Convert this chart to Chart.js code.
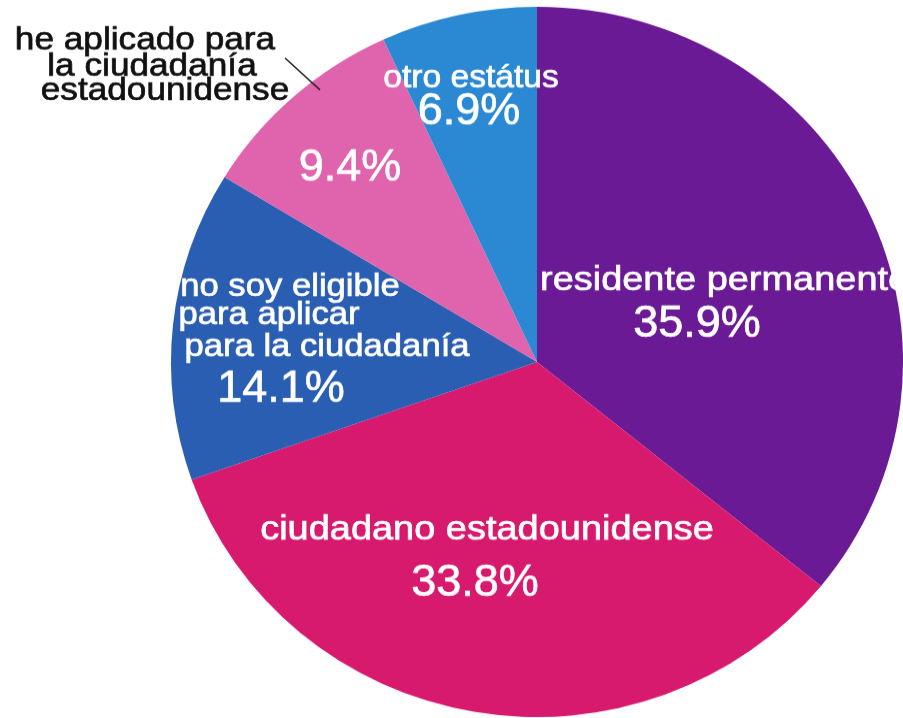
<!DOCTYPE html>
<html lang="es">
<head>
    <meta charset="UTF-8">
    <title>Estatus</title>
    <script src="https://cdn.jsdelivr.net/npm/chart.js@4.4.0/dist/chart.umd.min.js"></script>
    <style>
        body { margin: 0; background: #fff; overflow: hidden; }
        #wrap { width: 903px; height: 718px; overflow: hidden; }
        /* el pastel original es un poco más ancho que alto */
        #pie { display: block; width: 903px; height: 740px; transform: scaleY(0.9703); transform-origin: 0 0; }
    </style>
</head>
<body>
<div id="wrap">
    <canvas id="pie" width="903" height="740"></canvas>
</div>
<script>
    // datos
    const categorias = ['residente permanente', 'ciudadano estadounidense', 'no soy eligible para aplicar para la ciudadanía', 'he aplicado para la ciudadanía estadounidense', 'otro estátus'];
    const porcentajes = [35.9, 33.8, 14.1, 9.4, 6.9];
    const etiquetas = [
        ['residente permanente'],
        ['ciudadano estadounidense'],
        ['no soy eligible', 'para aplicar', 'para la ciudadanía'],
        ['he aplicado para', 'la ciudadanía', 'estadounidense'],
        ['otro estátus']
    ];
    const colores = ['#6b1a95', '#d81a6e', '#2a5eb3', '#e064ad', '#2b89d3'];

    const SY = 718 / 740;
    const FUENTE = '"Liberation Sans", Arial, Helvetica, sans-serif';

    // posición de cada línea respecto al centro del pastel (px en pantalla)
    const posEtiquetas = [
        { lineas: [[3, -72]], alinear: 'left', size: 34.5, k: 1.1, color: '#fff', pct: [160, -25] },
        { lineas: [[-50, 178]], alinear: 'center', size: 34.5, k: 1.1, color: '#fff', pct: [-62, 234] },
        { lineas: [[-247, -66], [-268, -38], [-210, -6]], alinear: 'center', size: 31.5, k: 1.1, color: '#fff', pct: [-256, 40] },
        { lineas: [[-392, -312], [-385, -286], [-372, -262]], alinear: 'center', size: 32, k: 1.1, color: '#111', pct: [-187, -181] },
        { lineas: [[-66, -275]], alinear: 'center', size: 32, k: 1.05, color: '#fff', pct: [-68, -238] }
    ];

    function texto(ctx, str, x, y, size, k, color, align) {
        ctx.save();
        ctx.translate(x, y / SY);
        ctx.scale(k, 1 / SY);
        ctx.font = size + 'px ' + FUENTE;
        ctx.fillStyle = color;
        ctx.strokeStyle = color;
        ctx.lineWidth = 0.7;
        ctx.textAlign = align;
        ctx.textBaseline = 'alphabetic';
        ctx.fillText(str, 0, 0);
        ctx.strokeText(str, 0, 0);
        ctx.restore();
    }

    const rotulos = {
        id: 'rotulos',
        afterDraw(chart) {
            const ctx = chart.ctx;
            const arco = chart.getDatasetMeta(0).data[0];
            const cx = arco.x;
            const cy = arco.y * SY;

            // línea guía de "he aplicado..."
            ctx.save();
            ctx.strokeStyle = '#222';
            ctx.lineWidth = 1.5;
            ctx.beginPath();
            ctx.moveTo(cx - 252, (cy - 304) / SY);
            ctx.lineTo(cx - 217, (cy - 272) / SY);
            ctx.stroke();
            ctx.restore();

            posEtiquetas.forEach((p, i) => {
                etiquetas[i].forEach((linea, j) => {
                    texto(ctx, linea, cx + p.lineas[j][0], cy + p.lineas[j][1], p.size, p.k, p.color, p.alinear);
                });
                texto(ctx, porcentajes[i].toFixed(1) + '%', cx + p.pct[0], cy + p.pct[1], 45, 1, '#fff', 'center');
            });
        }
    };

    new Chart(document.getElementById('pie'), {
        type: 'pie',
        data: {
            labels: categorias,
            datasets: [{
                data: porcentajes,
                backgroundColor: colores,
                borderWidth: 0
            }]
        },
        options: {
            responsive: false,
            animation: false,
            layout: { padding: { left: 171, right: 0, top: 7, bottom: 1 } },
            plugins: {
                legend: { display: false },
                tooltip: { enabled: false }
            }
        },
        plugins: [rotulos]
    });
</script>
</body>
</html>
